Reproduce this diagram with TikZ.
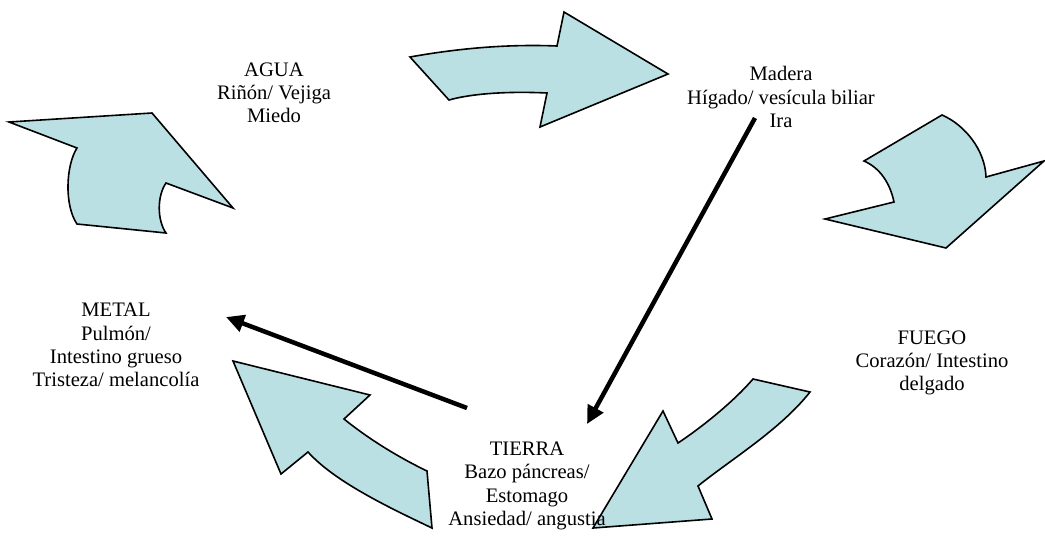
\documentclass[tikz,border=0pt]{standalone}
\usepackage{fontspec}
\setmainfont{Liberation Serif}
\usetikzlibrary{arrows.meta}
\definecolor{arrowfill}{RGB}{187,224,227}
\begin{document}
\begin{tikzpicture}[x=1pt,y=-1pt,
  blockarrow/.style={draw=black,line width=1.6pt,fill=arrowfill,line join=miter},
  label/.style={align=center,font=\fontsize{20.6}{23.2}\selectfont,inner sep=0pt},
  flow/.style={line width=4.5pt,-{Triangle[length=18pt,width=17pt]}}]
\useasboundingbox (0,0) rectangle (1045,539);

% curved block arrows
\draw[blockarrow] (9,122) -- (152,113) -- (233,208) -- (166,183)
  .. controls (157,196) and (157,220) .. (166,233) -- (77,224)
  .. controls (64,205) and (66,165) .. (77,148) -- cycle;
\draw[blockarrow] (410,57) .. controls (460,48) and (510,44) .. (557,46)
  -- (564,12) -- (668,74) -- (540,127) -- (547,93)
  .. controls (505,91) and (470,94) .. (449,100) -- cycle;
\draw[blockarrow] (942,115) .. controls (965,125) and (985,150) .. (986,177)
  -- (1044,161) -- (946,248) -- (825,219) -- (894,202)
  .. controls (890,183) and (880,168) .. (864,161) -- cycle;
\draw[blockarrow] (753,379) -- (810,392)
  .. controls (780,430) and (730,460) .. (698,486) -- (712,519)
  -- (593,528) -- (663,411) -- (678,443)
  .. controls (705,425) and (735,400) .. cycle;
\draw[blockarrow] (233,361) -- (370,395) -- (344,419)
  .. controls (370,440) and (400,458) .. (427,471) -- (432,528)
  .. controls (390,508) and (335,482) .. (308,452) -- (281,474) -- cycle;

% element labels
\node[label] (agua) at (274,93) {AGUA\\Riñón/ Vejiga\\Miedo};
\node[label] (madera) at (781,97) {Madera\\Hígado/ vesícula biliar\\Ira};
\node[label] (fuego) at (932,363) {FUEGO\\Corazón/ Intestino\\delgado};
\node[label] (tierra) at (527,486) {TIERRA\\Bazo páncreas/\\Estomago\\Ansiedad/ angustia};
\node[label] (metal) at (116,345) {METAL\\Pulmón/\\Intestino grueso\\Tristeza/ melancolía};

% control arrows
\coordinate (m0) at (755,118);
\coordinate (t1) at (587,424);
\coordinate (t0) at (467,408);
\coordinate (mt1) at (226,317);
\draw[flow] (m0) -- (t1);
\draw[flow] (t0) -- (mt1);
\end{tikzpicture}
\end{document}
